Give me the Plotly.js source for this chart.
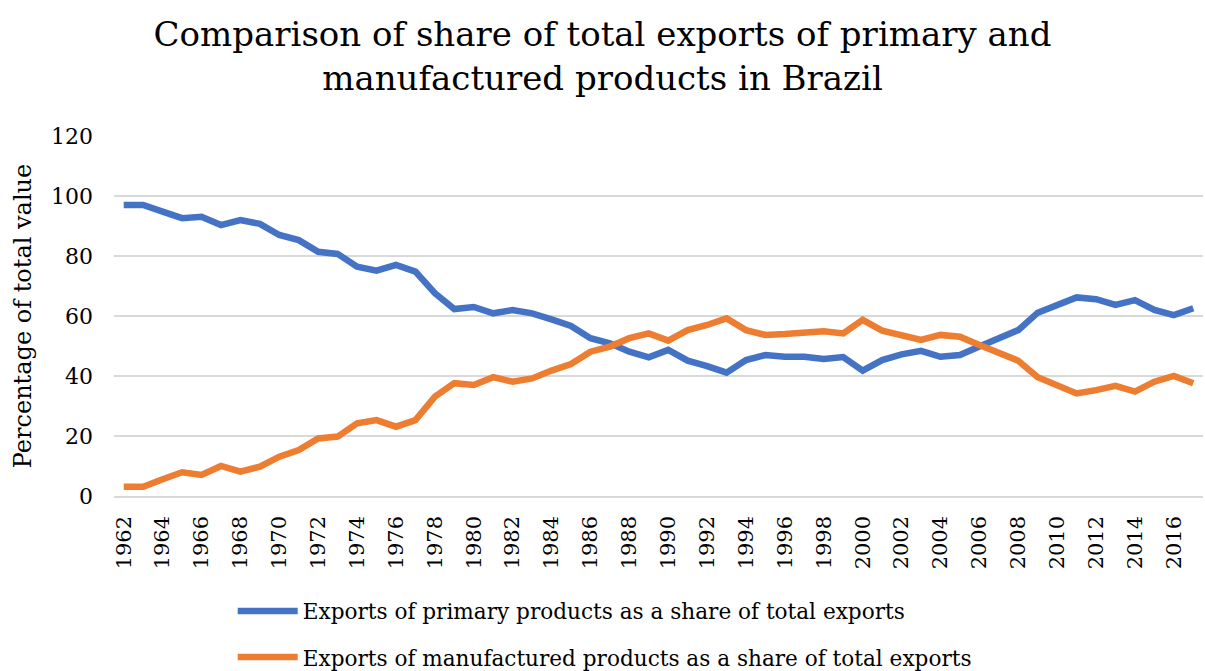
<!DOCTYPE html>
<html>
<head>
<meta charset="utf-8">
<script src="https://cdn.plot.ly/plotly-3.0.1.min.js"></script>
<style>html,body{margin:0;padding:0;background:#fff;}#chart{width:1205px;height:671px;}</style>
</head>
<body>
<div id="chart"></div>
<script>
const years = [1962,1963,1964,1965,1966,1967,1968,1969,1970,1971,1972,1973,1974,1975,1976,1977,1978,1979,1980,
  1981,1982,1983,1984,1985,1986,1987,1988,1989,1990,1991,1992,1993,1994,1995,1996,1997,1998,1999,
  2000,2001,2002,2003,2004,2005,2006,2007,2008,2009,2010,2011,2012,2013,2014,2015,2016,2017];
const primaryShare = [97.0,97.0,94.8,92.6,93.1,90.3,92.0,90.7,87.0,85.3,81.4,80.7,76.4,75.1,77.0,74.8,67.6,62.3,63.0,
  60.9,62.0,60.9,58.9,56.7,52.6,50.9,48.1,46.2,48.7,45.1,43.3,41.1,45.3,47.0,46.4,46.4,45.7,46.3,
  41.8,45.3,47.2,48.4,46.4,47.0,49.8,52.6,55.3,61.1,63.7,66.2,65.6,63.7,65.3,62.0,60.3,62.6];
const manufacturedShare = [3.1,3.1,5.6,7.9,7.0,10.0,8.1,9.8,13.1,15.3,19.2,19.8,24.2,25.3,23.1,25.3,33.1,37.6,37.0,
  39.6,38.1,39.2,41.8,44.0,48.1,49.8,52.6,54.2,51.8,55.3,57.0,59.2,55.3,53.7,54.0,54.2,54.9,54.2,
  58.7,55.1,53.3,52.0,53.7,53.1,50.3,47.8,45.1,39.6,36.7,34.2,35.3,36.7,34.8,38.1,40.0,37.6];
const tickYears = [1962,1964,1966,1968,1970,1972,1974,1976,1978,1980,1982,1984,1986,1988,1990,1992,1994,1996,1998,
  2000,2002,2004,2006,2008,2010,2012,2014,2016];
const yTicks = [0,20,40,60,80,100,120];
const seriesNames = ["Exports of primary products as a share of total exports",
  "Exports of manufactured products as a share of total exports"];
const titleText = "Comparison of share of total exports of primary and<br>manufactured products in Brazil";
const yTitle = "Percentage of total value";

const serif = "DejaVu Serif, serif";

const traces = [
  {x: years, y: primaryShare, type: "scatter", mode: "lines", name: seriesNames[0], legendgroup: "a",
   line: {color: "#4472C4", width: 6.5, shape: "linear"}},
  {x: years, y: manufacturedShare, type: "scatter", mode: "lines", name: seriesNames[1], legendgroup: "b",
   line: {color: "#ED7D31", width: 6.5, shape: "linear"}}
];

const layout = {
  width: 1205, height: 671,
  paper_bgcolor: "#fff", plot_bgcolor: "#fff",
  margin: {l: 114, r: 2, t: 136, b: 175, autoexpand: false},
  title: {text: titleText, font: {family: serif, size: 34, color: "#000"},
    xref: "container", x: 0.5, xanchor: "center", yref: "container", y: 0.932, yanchor: "top"},
  xaxis: {range: [1961.5, 2017.5], tickmode: "array", tickvals: tickYears, ticktext: tickYears.map(String),
    tickangle: -90, tickfont: {family: serif, size: 21, color: "#000"}, showgrid: false, zeroline: false,
    showline: true, linecolor: "#d9d9d9", linewidth: 1.5, ticks: "", ticklabelstandoff: 10, fixedrange: true},
  yaxis: {range: [0, 120], tickmode: "array", tickvals: yTicks, tickfont: {family: serif, size: 22, color: "#000"},
    showgrid: true, gridcolor: "#d9d9d9", gridwidth: 1.5, zeroline: false, showline: false, ticks: "",
    ticklabelstandoff: 20,
    title: {text: yTitle, font: {family: serif, size: 24, color: "#000"}, standoff: 12}, fixedrange: true},
  showlegend: true,
  legend: {orientation: "v", x: 0.109, xanchor: "left", y: -0.2625, yanchor: "top",
    traceorder: "grouped", tracegroupgap: 15, font: {family: serif, size: 21.6, color: "#000"}, itemwidth: 60,
    bgcolor: "rgba(0,0,0,0)"}
};

Plotly.newPlot("chart", traces, layout, {displayModeBar: false, staticPlot: true});
</script>
</body>
</html>
